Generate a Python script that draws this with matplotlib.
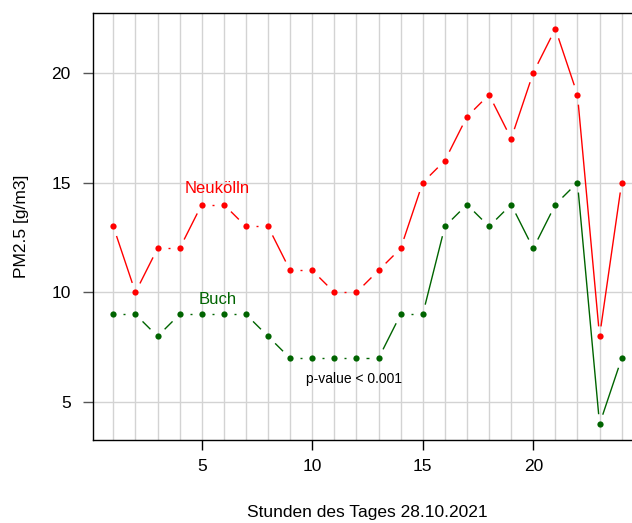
import matplotlib
matplotlib.use("Agg")
import matplotlib.pyplot as plt
import numpy as np

plt.rcParams["font.family"] = ["Liberation Sans", "DejaVu Sans"]

hours = list(range(1, 25))
neukoelln = [13, 10, 12, 12, 14, 14, 13, 13, 11, 11, 10, 10,
             11, 12, 15, 16, 18, 19, 17, 20, 22, 19, 8, 15]
buch = [9, 9, 8, 9, 9, 9, 9, 8, 7, 7, 7, 7,
        7, 9, 9, 13, 14, 13, 14, 12, 14, 15, 4, 7]
y_ticks = [5, 10, 15, 20]
x_ticks = [5, 10, 15, 20]


def gapped_line(ax, x, y, color, gap=10.0, lw=1.0):
    """R type='b' look: segments between points, cut back `gap` px at each end."""
    pts = ax.transData.transform(np.column_stack([x, y]))
    inv = ax.transData.inverted()
    for p, q in zip(pts[:-1], pts[1:]):
        d = q - p
        L = np.hypot(*d)
        if L <= 2 * gap:
            continue
        u = d / L
        a, b = inv.transform(np.array([p + u * gap, q - u * gap]))
        ax.plot([a[0], b[0]], [a[1], b[1]], color=color, lw=lw, solid_capstyle="butt")
    ax.plot(x, y, "o", color=color, ms=4.5, mec="none")


fig = plt.figure(figsize=(6.32, 5.23), dpi=100)
ax = fig.add_axes([93 / 632, 83 / 523, (642 - 93) / 632, 427 / 523])
ax.set_xlim(0.08, 24.92)
ax.set_ylim(3.28, 22.72)

for h in hours:
    ax.axvline(h, color="#d3d3d3", lw=1, zorder=0)
for t in y_ticks:
    ax.axhline(t, color="#d3d3d3", lw=1, zorder=0)

gapped_line(ax, hours, neukoelln, "red")
gapped_line(ax, hours, buch, "#006400")

ax.text(5.7, 14.73, "Neukölln", color="red", fontsize=12, ha="center", va="center")
ax.text(5.7, 9.68, "Buch", color="#006400", fontsize=12, ha="center", va="center")
ax.text(11.9, 6.05, "p-value < 0.001", color="black", fontsize=10, ha="center", va="center")

ax.set_xticks(x_ticks)
ax.set_yticks(y_ticks)
ax.tick_params(direction="out", length=7, width=1, labelsize=12.5, pad=7)
ax.tick_params(axis="y", colors="#555555", labelcolor="black", pad=9)
ax.set_xlabel("Stunden des Tages 28.10.2021", fontsize=12.5, labelpad=22)
ax.set_ylabel("PM2.5 [g/m3]", fontsize=12.5, labelpad=16)
for s in ax.spines.values():
    s.set_linewidth(1)
    s.set_color("black")

fig.savefig("out.png", dpi=100)
